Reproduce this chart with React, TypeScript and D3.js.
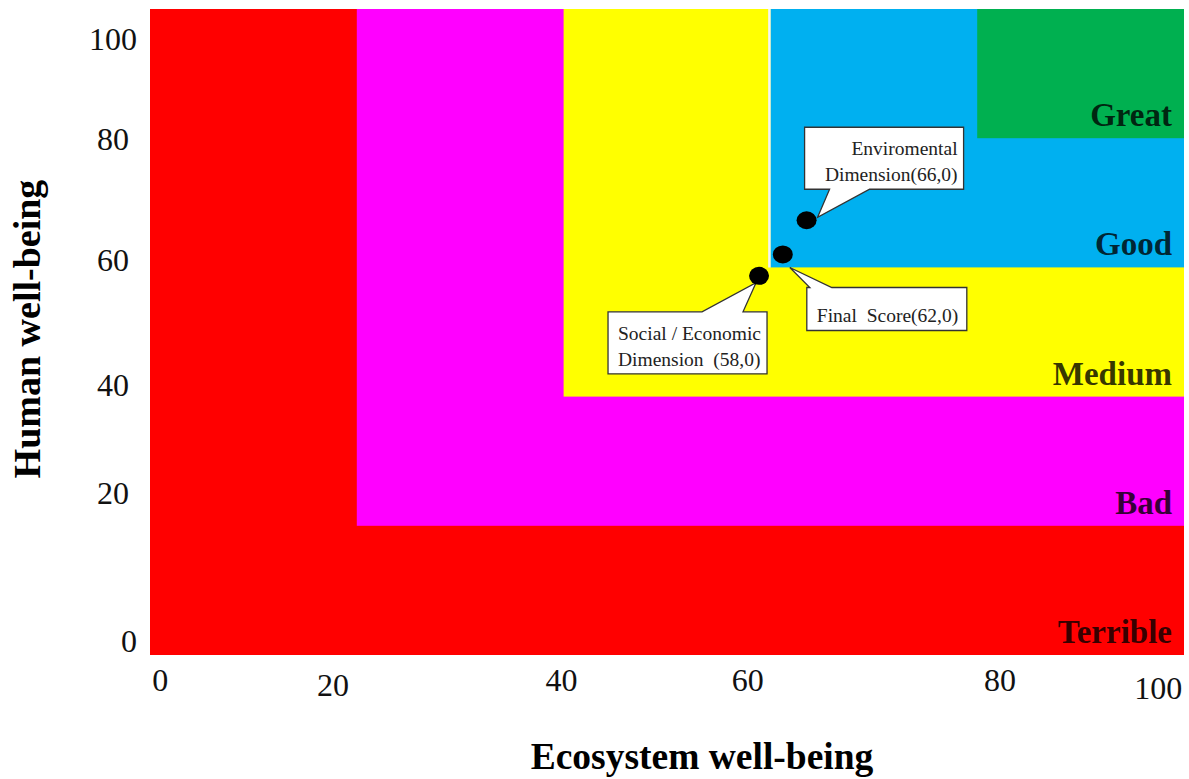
import React from "react";
import * as d3 from "d3";

// ---------- data ----------
const zoneNames = ["Terrible", "Bad", "Medium", "Good", "Great"];
const zoneLower = [0, 20, 40, 60, 80];
const zoneColors = ["#FF0000", "#FF00FF", "#FFFF00", "#00B0F0", "#00B050"];

const xTickLabels = ["0", "20", "40", "60", "80", "100"];
const xTickLabelAt = [1.0, 17.7, 39.8, 57.8, 82.2, 97.5];
const yTickLabels = ["100", "80", "60", "40", "20", "0"];
const yTickLabelAt = [95.5, 79.9, 61.3, 41.9, 25.1, 2.3];

const pointNames = ["Social / Economic Dimension", "Final Score", "Enviromental Dimension"];
const pointX = [58.9, 61.2, 63.5];
const pointY = [58.7, 62.0, 67.3];
const calloutLines = [
  ["Social / Economic", "Dimension  (58,0)"],
  ["Final  Score(62,0)"],
  ["Enviromental", "Dimension(66,0)"],
];

const xTitle = "Ecosystem well-being";
const yTitle = "Human well-being";

// ---------- layout ----------
const W = 1189;
const H = 779;
const PL = 150, PR = 1184, PT = 9, PB = 655;
const FONT = "'Liberation Serif', 'Times New Roman', Times, serif";

// callout geometry relative to the dot (pixels)
const calloutLayout = [
  { bx: -151, by: 36, w: 159, h: 62, side: "top", b0: 94, b1: 135, tx: -3, ty: 7, anchor: "start", textX: 10, lines: [28, 54] },
  { bx: 24, by: 33, w: 160, h: 43, side: "top", b0: 3, b1: 25, tx: 7, ty: 13, anchor: "start", textX: 10, lines: [35] },
  { bx: -2, by: -93, w: 159, h: 62, side: "bottom", b0: 25, b1: 65, tx: 11, ty: -3, anchor: "end", textX: 153, lines: [28, 54] },
];

export default function App() {
  const x = d3.scaleLinear().domain([0, 100]).range([PL, PR]);
  const y = d3.scaleLinear().domain([0, 100]).range([PB, PT]);

  const calloutPath = (i: number) => {
    const L = calloutLayout[i];
    const px = x(pointX[i]);
    const py = y(pointY[i]);
    const l = px + L.bx, t = py + L.by, r = l + L.w, b = t + L.h;
    const tipX = px + L.tx, tipY = py + L.ty;
    const p = d3.path();
    if (L.side === "top") {
      p.moveTo(l, t);
      p.lineTo(l + L.b0, t);
      p.lineTo(tipX, tipY);
      p.lineTo(l + L.b1, t);
      p.lineTo(r, t);
      p.lineTo(r, b);
      p.lineTo(l, b);
      p.closePath();
    } else {
      p.moveTo(l, t);
      p.lineTo(r, t);
      p.lineTo(r, b);
      p.lineTo(l + L.b1, b);
      p.lineTo(tipX, tipY);
      p.lineTo(l + L.b0, b);
      p.lineTo(l, b);
      p.closePath();
    }
    return { d: p.toString(), l, t };
  };

  return (
    <svg
      width={W}
      height={H}
      viewBox={`0 0 ${W} ${H}`}
      style={{ position: "absolute", left: 0, top: 0, display: "block", background: "#fff" }}
      fontFamily={FONT}
    >
      {/* zones */}
      {zoneLower.map((v, i) => (
        <rect
          key={zoneNames[i]}
          x={x(v)}
          y={y(100)}
          width={x(100) - x(v)}
          height={y(v) - y(100)}
          fill={zoneColors[i]}
        />
      ))}
      {/* thin white seam on the left of the Good zone */}
      <line x1={x(60) - 1} x2={x(60) - 1} y1={y(100)} y2={y(60)} stroke="#f4f4f4" strokeWidth={2.5} />

      {/* zone labels */}
      {zoneLower.map((v, i) => (
        <text
          key={"lab" + i}
          x={x(100) - 12}
          y={y(v) - 12}
          textAnchor="end"
          fontWeight="bold"
          fontSize={33}
          fill="#000"
          fillOpacity={0.8}
        >
          {zoneNames[i]}
        </text>
      ))}

      {/* callouts */}
      {pointNames.map((n, i) => {
        const c = calloutPath(i);
        const L = calloutLayout[i];
        return (
          <g key={n}>
            <path d={c.d} fill="#fff" stroke="#333" strokeWidth={1.3} strokeLinejoin="miter" />
            {calloutLines[i].map((s, j) => (
              <text
                key={j}
                x={c.l + L.textX}
                y={c.t + L.lines[j]}
                textAnchor={L.anchor as any}
                fontSize={19.5}
                fill="#222"
                style={{ whiteSpace: "pre" }}
              >
                {s}
              </text>
            ))}
          </g>
        );
      })}

      {/* points */}
      {pointNames.map((n, i) => (
        <ellipse key={"pt" + i} cx={x(pointX[i])} cy={y(pointY[i])} rx={10} ry={9} fill="#000" />
      ))}

      {/* tick labels */}
      {xTickLabels.map((s, i) => (
        <text
          key={"xt" + i}
          x={x(xTickLabelAt[i])}
          y={i === 5 ? 699 : i === 1 ? 696 : 691}
          textAnchor="middle"
          fontSize={32}
          fill="#111"
        >
          {s}
        </text>
      ))}
      {yTickLabels.map((s, i) => (
        <text
          key={"yt" + i}
          x={i === 0 || i === 5 ? 137 : 129}
          y={y(yTickLabelAt[i])}
          dy="0.36em"
          textAnchor="end"
          fontSize={32}
          fill="#111"
        >
          {s}
        </text>
      ))}

      {/* axis titles */}
      <text x={702} y={769} textAnchor="middle" fontWeight="bold" fontSize={37.5} fill="#000">
        {xTitle}
      </text>
      <text
        transform={`translate(40, 329) rotate(-90)`}
        textAnchor="middle"
        fontWeight="bold"
        fontSize={38}
        fill="#000"
      >
        {yTitle}
      </text>
    </svg>
  );
}
